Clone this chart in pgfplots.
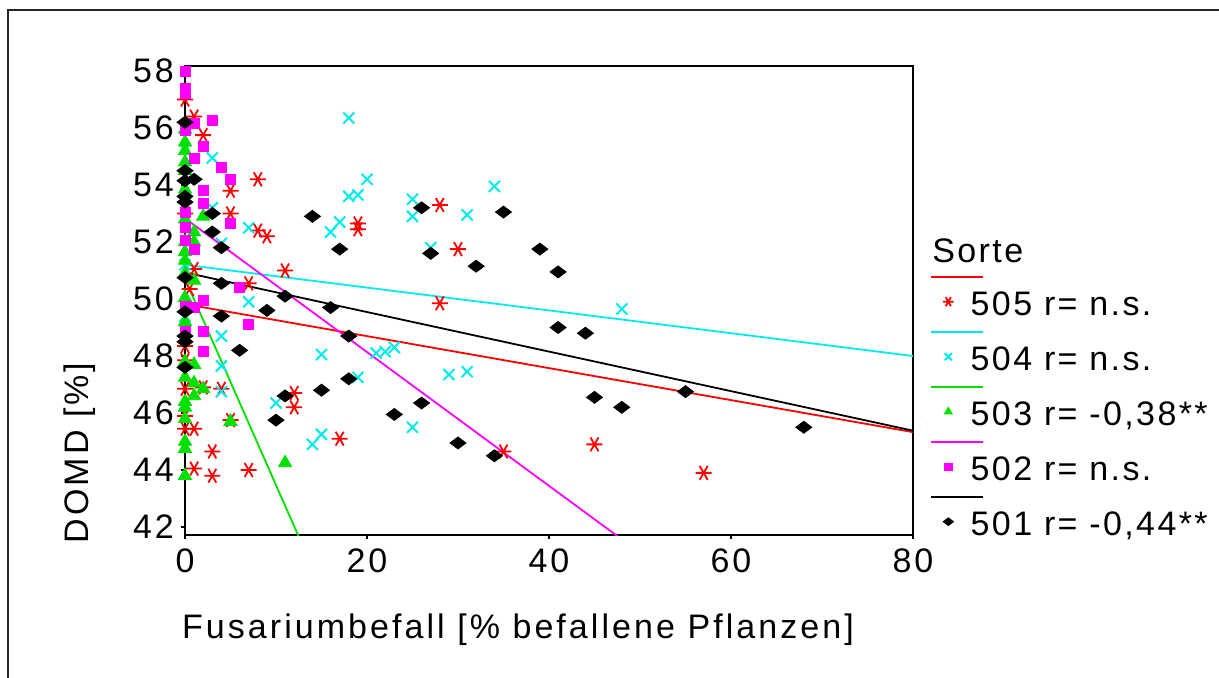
\documentclass[border=0pt]{standalone}
\usepackage{fontspec}
\setmainfont{Liberation Sans}[LetterSpace=9]
\newfontfamily\legfamily{Liberation Sans}[LetterSpace=7]
\usepackage{pgfplots}
\pgfplotsset{compat=1.18}

\definecolor{c505}{RGB}{255,0,0}
\definecolor{c504}{RGB}{0,235,235}
\definecolor{c503}{RGB}{0,225,0}
\definecolor{c502}{RGB}{255,0,255}
\definecolor{c501}{RGB}{0,0,0}

\newcommand{\tickfont}{\fontsize{17pt}{20pt}\selectfont}
\newcommand{\legfont}{\legfamily\fontsize{17pt}{20pt}\selectfont}

\begin{document}
\begin{tikzpicture}
\useasboundingbox (0pt,0pt) rectangle (609.5pt,-338.5pt);
% outer chart frame
\draw[line width=1pt, black!85] (4pt,-400pt) -- (4pt,-5pt) -- (700pt,-5pt);
\begin{axis}[
  at={(92.5pt,-267.5pt)}, anchor=south west,
  scale only axis, width=364pt, height=234.5pt,
  xmin=0, xmax=80, ymin=41.72, ymax=58.175,
  xtick={0,20,40,60,80}, ytick={42,44,46,48,50,52,54,56,58},
  xtick pos=lower, ytick pos=left,
  tick align=outside, major tick length=2pt,
  tick style={line width=1pt, black},
  axis line style={line width=1pt},
  /pgf/number format/assume math mode=true,
  tick label style={font=\tickfont},
  xticklabel style={yshift=-1.5pt},
  xlabel={Fusariumbefall [\% befallene Pflanzen]},
  ylabel={DOMD [\%]},
  label style={font=\tickfont},
  xlabel style={at={(axis description cs:0.4574,-0.2026)}, anchor=center},
  ylabel style={at={(axis description cs:-0.1442,0.1748)}, anchor=center, rotate=0},
  legend cell align=left,
  legend style={at={(1.048,0.5209)}, anchor=north west, draw=none, fill=none,
    inner sep=0pt, outer sep=0pt, row sep=11.5pt, column sep=0pt, font=\legfont,
    nodes={inner sep=0pt, text height=12.5pt, text depth=3.5pt},
    /tikz/every odd column/.append style={column sep=0pt}},
]
% ---- Sorte 505
\addplot[only marks, color=c505, mark=asterisk, mark size=4pt,
  mark options={rotate=90, line width=0.9pt},
  legend image code/.code={
    \draw[overlay, c505, line width=1pt] (-8.5pt,15pt) -- (17.5pt,15pt);
    \draw[overlay, mark size=2.6pt] plot coordinates {(0pt,2.5pt)};
    \path (0pt,0pt) (11pt,0pt);}]
coordinates {(0,57.0)(1,56.4)(2,55.75)(8,54.2)(5,53.8)(5,53.0)(0,53.0)(8,52.4)
(9,52.2)(1,51.05)(11,51.0)(7,50.55)(19,52.65)(19,52.45)(28,53.3)(30,51.75)
(28,49.85)(0.5,50.35)(0,48.35)(0,47.85)(0,46.85)(2,46.9)(4,46.85)(5,45.75)
(0,45.9)(1,45.45)(0,45.45)(3,44.65)(1,44.05)(3,43.8)(7,44.0)(12,46.7)(12,46.2)
(17,45.1)(35,44.65)(45,44.9)(57,43.9)};
\addlegendentry{505 r= n.s.}
% ---- Sorte 504
\addplot[only marks, color=c504, mark=x, mark size=3.9pt,
  mark options={line width=1pt},
  legend image code/.code={
    \draw[overlay, c504, line width=1pt] (-8.5pt,15pt) -- (17.5pt,15pt);
    \draw[overlay, mark size=2.5pt] plot coordinates {(0pt,2.5pt)};
    \path (0pt,0pt) (11pt,0pt);}]
coordinates {(0,55.25)(3,54.95)(3,53.2)(7,52.5)(4,51.95)(0,51.2)(7,49.9)(0,49.4)
(4,48.7)(4,47.65)(4,46.75)(10,46.35)(18,56.35)(20,54.2)(18,53.6)(19,53.65)
(25,53.5)(25,52.9)(34,53.95)(31,52.95)(17,52.7)(16,52.35)(27,51.8)(15,48.05)
(21,48.1)(22,48.15)(23,48.3)(19,47.25)(29,47.35)(31,47.45)(25,45.5)(15,45.25)
(14,44.9)(48,49.65)};
\addlegendentry{504 r= n.s.}
% ---- Sorte 503
\addplot[only marks, color=c503, mark=triangle*, mark size=3.8pt,
  legend image code/.code={
    \draw[overlay, c503, line width=1pt] (-8.5pt,15pt) -- (17.5pt,15pt);
    \draw[overlay, mark size=2.3pt] plot coordinates {(0pt,2.5pt)};
    \path (0pt,0pt) (11pt,0pt);}]
coordinates {(0,55.95)(0,55.5)(0,55.2)(0,54.8)(0,54.5)(0,53.85)(0,53.5)(2,52.9)
(1,52.35)(0,52.8)(1,52.0)(0,52.0)(0,51.65)(0,51.35)(0,50.9)(1,50.65)(0,50.05)
(0,49.2)(0,48.8)(0,47.8)(1,47.7)(0,47.25)(1,47.05)(2,46.85)(1,46.6)(0,46.4)
(0,46.2)(0,45.8)(5,45.7)(0,45.0)(0,44.75)(0,43.8)(11,44.25)};
\addlegendentry{503 r= -0,38**}
% ---- Sorte 502
\addplot[only marks, color=c502, mark=square*, mark size=2.5pt,
  legend image code/.code={
    \draw[overlay, c502, line width=1pt] (-8.5pt,15pt) -- (17.5pt,15pt);
    \draw[overlay, mark size=1.8pt] plot coordinates {(0pt,2.5pt)};
    \path (0pt,0pt) (11pt,0pt);}]
coordinates {(0,58.0)(0,57.4)(0,57.2)(3,56.25)(1,56.15)(0,55.9)(2,55.35)(1,54.95)
(4,54.6)(5,54.2)(2,53.8)(2,53.35)(5,52.65)(0,53.05)(0,52.5)(0,52.05)(1,51.75)
(6,50.4)(2,49.95)(1,49.7)(0,49.75)(7,49.1)(2,48.85)(0,48.85)(2,48.15)};
\addlegendentry{502 r= n.s.}
% ---- Sorte 501
\addplot[only marks, color=c501, mark=diamond*, mark size=4pt,
  mark options={rotate=90},
  legend image code/.code={
    \draw[overlay, c501, line width=1pt] (-8.5pt,15pt) -- (17.5pt,15pt);
    \draw[overlay, mark size=2.6pt] plot coordinates {(0pt,2.5pt)};
    \path (0pt,0pt) (11pt,0pt);}]
coordinates {(0,56.2)(0,54.5)(0,54.15)(1,54.2)(0,53.6)(0,53.4)(3,53.0)(3,52.35)
(4,51.8)(0,50.75)(4,50.55)(11,50.1)(0,49.55)(4,49.4)(9,49.6)(0,48.7)(0,48.5)
(6,48.2)(0,47.6)(11,46.6)(10,45.75)(14,52.9)(26,53.2)(35,53.05)(17,51.75)
(27,51.6)(32,51.15)(16,49.7)(18,48.7)(18,47.2)(15,46.8)(26,46.35)(23,45.95)
(30,44.95)(34,44.5)(39,51.75)(41,50.95)(41,49.0)(44,48.8)(45,46.55)(48,46.2)
(55,46.75)(68,45.5)};
\addlegendentry{501 r= -0,44**}
% ---- linear fits per Sorte
\addplot[c505, line width=0.9pt, forget plot] coordinates {(0,49.82)(80,45.33)};
\addplot[c504, line width=0.9pt, forget plot] coordinates {(0,51.2)(80,48.0)};
\addplot[c503, line width=0.9pt, forget plot] coordinates {(0,50.71)(80,-7.2)};
\addplot[c502, line width=0.9pt, forget plot] coordinates {(0,52.83)(80,34.06)};
\addplot[c501, line width=0.9pt, forget plot] coordinates {(0,50.93)(80,45.38)};
\end{axis}
% legend heading
\node[anchor=west, font=\legfont, inner sep=0pt] at (466pt,-125.5pt) {Sorte};
\end{tikzpicture}
\end{document}
